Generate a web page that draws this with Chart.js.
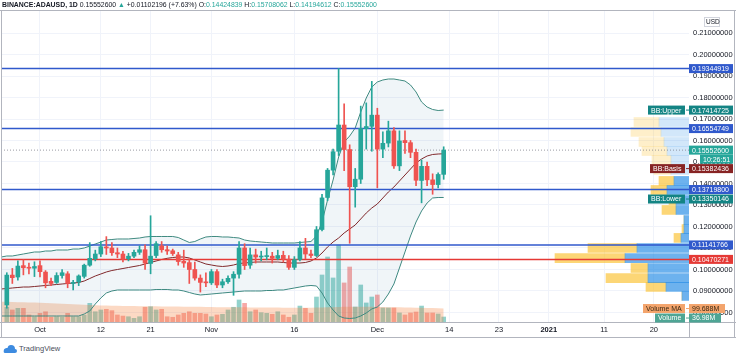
<!DOCTYPE html>
<html>
<head>
<meta charset="utf-8">
<script src="https://cdn.jsdelivr.net/npm/chart.js@4.4.1/dist/chart.umd.min.js"></script>
<style>
  html, body { margin: 0; padding: 0; background: #fff; }
  body { width: 736px; height: 358px; position: relative; overflow: hidden; font-family: "Liberation Sans", Arial, sans-serif; }
  #chart { position: absolute; left: 0; top: 0; }
  #head { position: absolute; left: 2px; top: 0; font-size: 6.9px; line-height: 10px; color: #131722; white-space: nowrap; z-index: 2; }
  #head .up { color: #26a69a; }
  #logo { position: absolute; left: 3px; top: 343px; font-size: 7.5px; line-height: 11px; color: #4a4e5a; white-space: nowrap; }
  #logo svg { vertical-align: -2px; margin-right: 2px; }
</style>
</head>
<body>
<canvas id="chart" width="736" height="340"></canvas>
<div id="head"><b>BINANCE:ADAUSD, 1D</b> 0.15552600 <span class="up">&#9650;</span> +0.01102196 (+7.63%) O:<span class="up">0.14424839</span> H:<span class="up">0.15708062</span> L:<span class="up">0.14194612</span> C:<span class="up">0.15552600</span></div>
<div id="logo"><svg width="14" height="9" viewBox="0 0 14 9"><path d="M2 9 L12 9 Q14 9 14 7 Q14 5 12 5 Q12 1 8 1 Q5 1 4.5 4 Q2 3.5 1 5.5 Q0 9 2 9 Z" fill="#3d8be0"/></svg>TradingView</div>
<script>
const FONT = '"Liberation Sans", Arial, sans-serif';

// days counted from 2020-10-01
const firstCandleDay = -6;   // 2020-09-25
const firstBandDay = -7;     // 2020-09-24

const opens = [
  0.0835, 0.0974, 0.0965, 0.1018, 0.1010, 0.1006,
  0.1018, 0.0988, 0.0945, 0.0940, 0.0972, 0.0980, 0.0935, 0.0942, 0.0968, 0.1020,
  0.1050, 0.1072, 0.1105, 0.1100, 0.1078, 0.1072, 0.1050, 0.1062, 0.1080, 0.1092,
  0.1028, 0.1065, 0.1110, 0.1092, 0.1087, 0.1068, 0.1038, 0.1032, 0.1000, 0.0960,
  0.0940, 0.0938, 0.0990, 0.0928, 0.0943, 0.0960, 0.0978, 0.1100, 0.1020, 0.1068,
  0.1058, 0.1060, 0.1062, 0.1052, 0.1066, 0.1048, 0.1010, 0.1046, 0.1100, 0.1072,
  0.1065, 0.1186, 0.1335, 0.1462, 0.1550, 0.1672, 0.1558, 0.1385, 0.1420, 0.1655,
  0.1666, 0.1718, 0.1560, 0.1588, 0.1645, 0.1482, 0.1600, 0.1590, 0.1545, 0.1414,
  0.1480, 0.1417, 0.1395, 0.14424839
];
const highs = [
  0.0985, 0.1005, 0.1040, 0.1045, 0.1030, 0.1036,
  0.1040, 0.0995, 0.0960, 0.0985, 0.1000, 0.0990, 0.0950, 0.0975, 0.1025, 0.1125,
  0.1090, 0.1130, 0.1153, 0.1125, 0.1100, 0.1085, 0.1075, 0.1090, 0.1110, 0.1115,
  0.1250, 0.1130, 0.1130, 0.1110, 0.1095, 0.1080, 0.1090, 0.1050, 0.1035, 0.0975,
  0.0985, 0.1000, 0.1000, 0.0955, 0.0970, 0.0990, 0.1130, 0.1120, 0.1100, 0.1095,
  0.1085, 0.1100, 0.1080, 0.1090, 0.1085, 0.1065, 0.1060, 0.1130, 0.1145, 0.1090,
  0.1200, 0.1350, 0.1470, 0.1560, 0.1935, 0.1770, 0.1580, 0.1470, 0.1760, 0.1775,
  0.1875, 0.1750, 0.1640, 0.1690, 0.1660, 0.1645, 0.1645, 0.1600, 0.1560, 0.1510,
  0.1500, 0.1445, 0.1450, 0.15708062
];
const lows = [
  0.0820, 0.0935, 0.0950, 0.0975, 0.0980, 0.0967,
  0.0965, 0.0915, 0.0925, 0.0935, 0.0960, 0.0915, 0.0905, 0.0925, 0.0960, 0.1015,
  0.1040, 0.1060, 0.1070, 0.1065, 0.1055, 0.1035, 0.1040, 0.1055, 0.1070, 0.1000,
  0.0980, 0.1055, 0.1080, 0.1070, 0.1065, 0.1020, 0.1010, 0.0935, 0.0950, 0.0895,
  0.0920, 0.0930, 0.0915, 0.0915, 0.0935, 0.0880, 0.0960, 0.1000, 0.1005, 0.1030,
  0.1040, 0.1045, 0.1030, 0.1045, 0.1035, 0.1000, 0.1000, 0.1040, 0.1050, 0.1055,
  0.1060, 0.1180, 0.1320, 0.1440, 0.1530, 0.1460, 0.1122, 0.1290, 0.1400, 0.1560,
  0.1550, 0.1380, 0.1520, 0.1570, 0.1470, 0.1460, 0.1540, 0.1520, 0.1390, 0.1310,
  0.1390, 0.1350, 0.1380, 0.14194612
];
const closes = [
  0.0974, 0.0962, 0.1016, 0.1008, 0.1006, 0.1014,
  0.0990, 0.0938, 0.0935, 0.0972, 0.0985, 0.0935, 0.0940, 0.0970, 0.1020, 0.1052,
  0.1072, 0.1106, 0.1100, 0.1078, 0.1072, 0.1048, 0.1062, 0.1080, 0.1092, 0.1030,
  0.1062, 0.1120, 0.1092, 0.1086, 0.1074, 0.1037, 0.1030, 0.1000, 0.0960, 0.0940,
  0.0938, 0.0990, 0.0928, 0.0943, 0.0959, 0.0978, 0.1100, 0.1018, 0.1068, 0.1058,
  0.1060, 0.1062, 0.1052, 0.1065, 0.1048, 0.1010, 0.1046, 0.1100, 0.1072, 0.1065,
  0.1185, 0.1333, 0.1462, 0.1548, 0.1672, 0.1558, 0.1385, 0.1420, 0.1656, 0.1665,
  0.1718, 0.1560, 0.1587, 0.1645, 0.1482, 0.1598, 0.1590, 0.1545, 0.1415, 0.1480,
  0.1417, 0.1395, 0.1442, 0.15552600
];
// volume, millions
const volumes = [
  109, 89, 101, 101, 52, 39,
  64, 76, 35, 39, 35, 64, 39, 39, 52, 138,
  76, 89, 94, 84, 52, 44, 39, 27, 39, 109,
  113, 89, 94, 39, 35, 52, 64, 76, 64, 64,
  59, 39, 52, 57, 89, 109, 163, 138, 76, 89,
  69, 64, 57, 76, 52, 35, 52, 118, 101, 64,
  185, 348, 481, 326, 570, 289, 407, 111, 274, 141,
  185, 200, 104, 104, 104, 67, 52, 67, 74, 118,
  67, 67, 59, 36.98
];
const volumeMA = [
  150, 149, 148, 147, 146, 145, 144, 143,
  141, 139, 137, 135, 133, 131, 129, 127, 125, 124,
  123, 122, 121, 120, 119, 118, 118, 117, 117, 116,
  116, 115, 115, 114, 114, 113, 113, 112, 112, 111,
  111, 110, 110, 110, 109, 109, 109, 108, 108, 108,
  107, 107, 107, 106, 106, 106, 106, 106, 106, 107,
  108, 109, 110, 111, 112, 113, 113, 113, 112, 112,
  111, 111, 110, 110, 109, 108, 107, 106, 105, 104, 103, 101, 99.688
];
const bbUpper = [
  0.10581, 0.10628, 0.10628, 0.10674, 0.10721, 0.10767, 0.10814,
  0.10814, 0.10860, 0.10860, 0.10907, 0.10907, 0.10907, 0.10953, 0.10953, 0.11000, 0.11093,
  0.11186, 0.11279, 0.11372, 0.11395, 0.11419, 0.11419, 0.11419, 0.11442, 0.11465, 0.11512,
  0.11535, 0.11535, 0.11535, 0.11535, 0.11535, 0.11488, 0.11372, 0.11256, 0.11302, 0.11419,
  0.11512, 0.11535, 0.11535, 0.11512, 0.11512, 0.11488, 0.11465, 0.11372, 0.11326, 0.11302,
  0.11279, 0.11256, 0.11233, 0.11233, 0.11233, 0.11233, 0.11233, 0.11256, 0.11279, 0.11302,
  0.11558, 0.12209, 0.13233, 0.14163, 0.15233, 0.15930, 0.16209, 0.16581, 0.17326, 0.17977,
  0.18488, 0.18721, 0.18814, 0.18860, 0.18860, 0.18814, 0.18767, 0.18581, 0.18256, 0.17791,
  0.17558, 0.17442, 0.17395, 0.17414725
];
const bbBasis = [
  0.09093, 0.09116, 0.09140, 0.09163, 0.09186, 0.09186, 0.09209,
  0.09233, 0.09256, 0.09279, 0.09302, 0.09326, 0.09349, 0.09372, 0.09395, 0.09465, 0.09581,
  0.09698, 0.09791, 0.09884, 0.09953, 0.10000, 0.10047, 0.10093, 0.10140, 0.10186, 0.10256,
  0.10326, 0.10395, 0.10465, 0.10521, 0.10558, 0.10581, 0.10581, 0.10535, 0.10442, 0.10349,
  0.10256, 0.10209, 0.10163, 0.10140, 0.10163, 0.10209, 0.10279, 0.10302, 0.10326, 0.10349,
  0.10349, 0.10349, 0.10349, 0.10349, 0.10326, 0.10302, 0.10302, 0.10302, 0.10326, 0.10395,
  0.10535, 0.10767, 0.11047, 0.11279, 0.11465, 0.11698, 0.11884, 0.12070, 0.12349, 0.12628,
  0.12860, 0.13047, 0.13326, 0.13605, 0.13837, 0.14116, 0.14395, 0.14674, 0.14953, 0.15140,
  0.15279, 0.15349, 0.15372, 0.15382436
];
const bbLower = [
  0.07837, 0.07837, 0.07837, 0.07837, 0.07837, 0.07837, 0.07837,
  0.07837, 0.07837, 0.07837, 0.07837, 0.07837, 0.07837, 0.07837, 0.07837, 0.07930, 0.08070,
  0.08395, 0.08674, 0.08907, 0.09000, 0.09047, 0.09047, 0.09047, 0.09047, 0.09047, 0.09047,
  0.09047, 0.09070, 0.09070, 0.09070, 0.09047, 0.09047, 0.09000, 0.08930, 0.08860, 0.08814,
  0.08837, 0.08860, 0.08884, 0.08907, 0.08930, 0.08953, 0.08977, 0.09000, 0.09000, 0.09000,
  0.09000, 0.09023, 0.09023, 0.09047, 0.09047, 0.09093, 0.09140, 0.09186, 0.09233, 0.09256,
  0.09233, 0.08907, 0.08442, 0.08116, 0.07837, 0.07744, 0.07721, 0.07744, 0.07837, 0.07977,
  0.08163, 0.08256, 0.08488, 0.08860, 0.09326, 0.10070, 0.10814, 0.11558, 0.12209, 0.12721,
  0.13093, 0.13326, 0.13349, 0.13350146
];

const tickDays = [0, 11, 20, 31, 46, 61, 74, 83, 92, 102, 111];
const tickLabels = ['Oct', '12', '21', 'Nov', '16', 'Dec', '14', '23', '2021', '11', '20'];
const priceTicks = [0.08, 0.09, 0.10, 0.11, 0.12, 0.13, 0.14, 0.15, 0.16, 0.17, 0.18, 0.19, 0.20, 0.21];

const blueLevels = [0.19344919, 0.16554749, 0.13719800, 0.11141766];
const redLevel = 0.10470271;
const lastPrice = 0.15552600;
const countdown = '10:26:51';

// visible range volume profile rows
const profilePrices = [0.1686, 0.1640, 0.1593, 0.1551, 0.1509, 0.1463, 0.1412, 0.1370, 0.1323, 0.1277,
                       0.1230, 0.1188, 0.1147, 0.1100, 0.1053, 0.1007, 0.0960, 0.0919, 0.0877];
const profileUp =   [30, 28, 25, 22, 18, 18, 15, 22, 13, 13, 5, 5, 8, 52, 64, 41, 41, 23, 7];
const profileDown = [25, 30, 25, 25, 19, 17, 15, 16, 7, 14, 0, 2, 7, 49, 70, 17, 42, 20, 0];
const valueAreaFrom = 6;

const xMin = -7.05, xMax = 117.36;
const yMin = 0.075581, yMax = 0.220698;
const volumeAxisMax = 2309;
const profileAxisMax = 688;

const UP = '#26a69a', DOWN = '#ef5350';
const BLUE = '#3059cc', RED = '#e53935';

const candleDays = opens.map((_, i) => firstCandleDay + i);
const bandDays = bbUpper.map((_, i) => firstBandDay + i);
const isUp = opens.map((o, i) => closes[i] >= o);

const pts = (days, vals) => days.map((d, i) => ({ x: d, y: vals[i] }));
const flat = v => [{ x: xMin, y: v }, { x: xMax, y: v }];

const levelSets = blueLevels.map(v => ({
  type: 'line', data: flat(v), borderColor: BLUE, borderWidth: 1.5, pointRadius: 0, order: 3
}));

const datasets = [
  { type: 'bar', data: candleDays.map((d, i) => ({ x: d, y: [opens[i], closes[i]] })),
    backgroundColor: isUp.map(u => u ? UP : DOWN), barThickness: 4, minBarLength: 1, grouped: false, order: 1 },
  { type: 'bar', data: candleDays.map((d, i) => ({ x: d, y: [lows[i], highs[i]] })),
    backgroundColor: isUp.map(u => u ? UP : DOWN), barThickness: 1, grouped: false, order: 2 },
  ...levelSets,
  { type: 'line', data: flat(redLevel), borderColor: RED, borderWidth: 1.5, pointRadius: 0, order: 3 },
  { type: 'line', data: flat(lastPrice), borderColor: 'rgba(120,123,134,0.75)', borderWidth: 1, borderDash: [1, 2], pointRadius: 0, order: 3 },
  { type: 'line', data: pts(bandDays, bbUpper), borderColor: '#3f8a80', borderWidth: 1, pointRadius: 0,
    fill: '+2', backgroundColor: 'rgba(40,110,150,0.07)', order: 4 },
  { type: 'line', data: pts(bandDays, bbBasis), borderColor: '#872323', borderWidth: 1, pointRadius: 0, order: 4 },
  { type: 'line', data: pts(bandDays, bbLower), borderColor: '#3f8a80', borderWidth: 1, pointRadius: 0, order: 4 },
  { type: 'bar', indexAxis: 'y', xAxisID: 'xvp', yAxisID: 'y',
    data: profilePrices.map((p, i) => ({ y: p, x: [0, profileUp[i]] })),
    backgroundColor: profilePrices.map((_, i) => i >= valueAreaFrom ? 'rgba(30,136,229,0.65)' : 'rgba(30,136,229,0.2)'),
    barThickness: 9, grouped: false, order: 5 },
  { type: 'bar', indexAxis: 'y', xAxisID: 'xvp', yAxisID: 'y',
    data: profilePrices.map((p, i) => ({ y: p, x: [profileUp[i], profileUp[i] + profileDown[i]] })),
    backgroundColor: profilePrices.map((_, i) => i >= valueAreaFrom ? 'rgba(251,192,45,0.65)' : 'rgba(251,192,45,0.25)'),
    barThickness: 9, grouped: false, order: 5 },
  { type: 'line', yAxisID: 'yv', data: pts(bandDays, volumeMA), borderWidth: 0, pointRadius: 0,
    fill: 'origin', backgroundColor: 'rgba(245,130,60,0.3)', order: 6 },
  { type: 'bar', yAxisID: 'yv', data: pts(candleDays, volumes),
    backgroundColor: isUp.map(u => u ? 'rgba(38,166,154,0.5)' : 'rgba(239,83,80,0.5)'),
    barThickness: 4, grouped: false, order: 7 }
];

const priceLabels = [
  { value: 0.19344919, bg: BLUE },
  { value: 0.17414725, bg: '#138484', name: 'BB:Upper' },
  { value: 0.16554749, bg: BLUE },
  { value: lastPrice, bg: UP, extra: countdown },
  { value: 0.15382436, bg: '#872323', name: 'BB:Basis' },
  { value: 0.13719800, bg: BLUE },
  { value: 0.13350146, bg: '#138484', name: 'BB:Lower' },
  { value: 0.11141766, bg: BLUE },
  { value: redLevel, bg: RED }
];
const volumeLabels = [
  { value: 99.688, bg: '#f3a46c', fg: '#3b2a14', name: 'Volume MA', text: '99.688M' },
  { value: 36.98, bg: '#4ea594', name: 'Volume', text: '36.98M' }
];

const axisBoxes = {
  id: 'axisBoxes',
  afterDraw(chart) {
    const ctx = chart.ctx;
    const area = chart.chartArea;
    const H = 9;
    ctx.save();
    ctx.strokeStyle = '#b2b5be';
    ctx.lineWidth = 1;
    ctx.beginPath();
    ctx.moveTo(0, 10.5); ctx.lineTo(736, 10.5);
    ctx.moveTo(1.5, 10); ctx.lineTo(1.5, 338);
    ctx.moveTo(734.5, 10); ctx.lineTo(734.5, 338);
    ctx.moveTo(0, area.bottom + 0.5); ctx.lineTo(736, area.bottom + 0.5);
    ctx.moveTo(area.right + 0.5, area.bottom); ctx.lineTo(area.right + 0.5, 338);
    ctx.moveTo(0, 337.5); ctx.lineTo(736, 337.5);
    ctx.stroke();

    // USD unit box
    ctx.fillStyle = '#fff';
    ctx.fillRect(704, 17, 16, 10);
    ctx.strokeStyle = '#d1d4dc';
    ctx.strokeRect(704.5, 17.5, 15, 9);
    ctx.fillStyle = '#131722';
    ctx.textBaseline = 'middle';
    ctx.font = '6.5px ' + FONT;
    ctx.fillText('USD', 706, 22.5);
    ctx.font = '7px ' + FONT;

    const drawSet = (items, scale, fixedW) => {
      let lastBottom = -Infinity;
      items.forEach(it => {
        const cy = scale.getPixelForValue(it.value);
        const top = Math.max(cy - H / 2, lastBottom + 0.5);
        const text = it.text || it.value.toFixed(8);
        const w = fixedW || Math.ceil(ctx.measureText(text).width) + 8;
        ctx.fillStyle = it.bg;
        ctx.fillRect(area.right, top, w, H);
        ctx.fillStyle = it.fg || '#fff';
        ctx.fillText(text, area.right + 3, top + H / 2 + 0.5);
        if (it.name) {
          const nw = Math.ceil(ctx.measureText(it.name).width) + 6;
          const nx = area.right - 4 - nw;
          ctx.fillStyle = it.bg;
          ctx.fillRect(nx, top, nw, H);
          ctx.fillRect(area.right - 3, top + H / 2 - 0.5, 3, 1);
          ctx.fillStyle = it.fg || '#fff';
          ctx.fillText(it.name, nx + 3, top + H / 2 + 0.5);
        }
        lastBottom = top + H;
        if (it.extra) {
          ctx.fillStyle = it.bg;
          ctx.fillRect(area.right + 11, lastBottom, 33, H);
          ctx.fillStyle = '#fff';
          ctx.fillText(it.extra, area.right + 14, lastBottom + H / 2 + 0.5);
          lastBottom += H;
        }
      });
    };
    drawSet(priceLabels, chart.scales.y, 44);
    drawSet(volumeLabels, chart.scales.yv, 0);
    ctx.restore();
  }
};

Chart.defaults.font.family = FONT;

new Chart(document.getElementById('chart'), {
  type: 'bar',
  data: { datasets: datasets },
  plugins: [axisBoxes],
  options: {
    responsive: false,
    animation: false,
    devicePixelRatio: 1,
    layout: { padding: { top: 10, left: 1, right: 0, bottom: 0 } },
    plugins: { legend: { display: false }, tooltip: { enabled: false } },
    scales: {
      x: {
        type: 'linear', position: 'bottom', min: xMin, max: xMax, offset: false,
        grid: { color: '#f0f3fa', offset: false, drawTicks: false },
        border: { display: false },
        afterBuildTicks: s => { s.ticks = tickDays.map(v => ({ value: v })); },
        afterFit: s => { s.height = 18; },
        ticks: {
          padding: 3, maxRotation: 0, autoSkip: false, color: '#131722',
          callback: (v, i) => tickLabels[i],
          font: c => ({ family: FONT, size: 7.5, weight: (c.tick && c.tick.label === '2021') ? 'bold' : 'normal' })
        }
      },
      y: {
        type: 'linear', position: 'right', min: yMin, max: yMax, beginAtZero: false, offset: false,
        grid: { color: '#f0f3fa', drawTicks: false, offset: false },
        border: { display: false },
        afterBuildTicks: s => { s.ticks = priceTicks.map(v => ({ value: v })); },
        afterFit: s => { s.width = 47; },
        ticks: { padding: 4, color: '#131722', font: { family: FONT, size: 7.5 }, callback: v => v.toFixed(8) }
      },
      yv: { type: 'linear', display: false, min: 0, max: volumeAxisMax, beginAtZero: true, offset: false },
      xvp: { type: 'linear', display: false, min: 0, max: profileAxisMax, reverse: true, offset: false, beginAtZero: true }
    }
  }
});
</script>
</body>
</html>
